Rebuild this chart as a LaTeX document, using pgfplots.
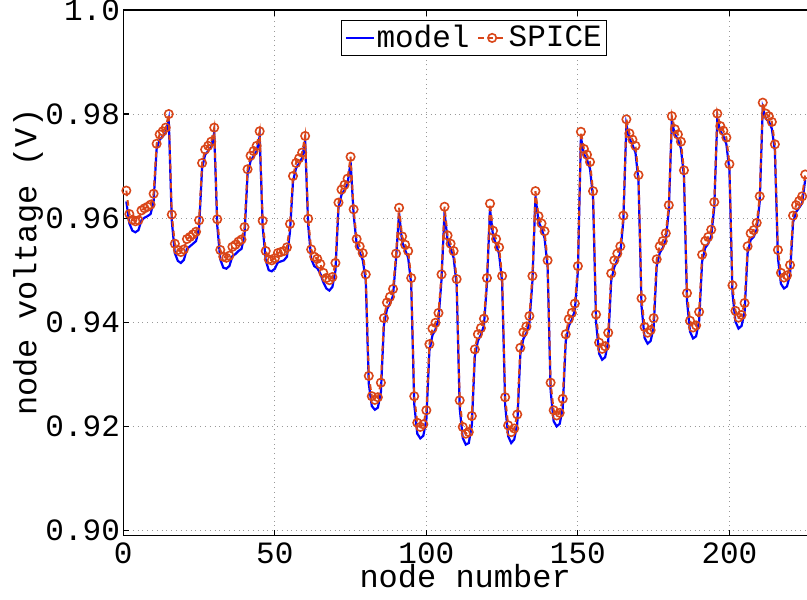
\documentclass[border=0pt]{standalone}
\usepackage{fontspec}
\setmainfont{Liberation Mono}
\usepackage{pgfplots}
\usepackage{pgfplotstable}
\pgfplotsset{compat=1.18}
\definecolor{spicered}{RGB}{217,70,25}
\definecolor{modelblue}{RGB}{0,0,255}
\pgfplotstableread{
n spice model
1 0.9653 0.9632
2 0.9608 0.9590
3 0.9597 0.9576
4 0.9594 0.9573
5 0.9596 0.9577
6 0.9615 0.9596
7 0.9619 0.9601
8 0.9622 0.9604
9 0.9626 0.9608
10 0.9647 0.9632
11 0.9743 0.9733
12 0.9761 0.9751
13 0.9767 0.9757
14 0.9774 0.9764
15 0.9800 0.9790
16 0.9607 0.9595
17 0.9551 0.9533
18 0.9539 0.9518
19 0.9535 0.9514
20 0.9540 0.9520
21 0.9560 0.9541
22 0.9564 0.9546
23 0.9569 0.9551
24 0.9574 0.9556
25 0.9596 0.9581
26 0.9706 0.9696
27 0.9732 0.9722
28 0.9739 0.9729
29 0.9747 0.9737
30 0.9774 0.9764
31 0.9598 0.9586
32 0.9539 0.9521
33 0.9526 0.9505
34 0.9524 0.9503
35 0.9528 0.9508
36 0.9545 0.9527
37 0.9549 0.9531
38 0.9555 0.9537
39 0.9559 0.9541
40 0.9583 0.9568
41 0.9694 0.9684
42 0.9720 0.9710
43 0.9729 0.9719
44 0.9739 0.9729
45 0.9767 0.9757
46 0.9595 0.9583
47 0.9537 0.9519
48 0.9521 0.9500
49 0.9519 0.9498
50 0.9523 0.9503
51 0.9533 0.9515
52 0.9535 0.9517
53 0.9537 0.9519
54 0.9544 0.9526
55 0.9589 0.9574
56 0.9681 0.9671
57 0.9706 0.9696
58 0.9715 0.9705
59 0.9726 0.9716
60 0.9758 0.9748
61 0.9599 0.9587
62 0.9540 0.9522
63 0.9526 0.9508
64 0.9522 0.9504
65 0.9512 0.9494
66 0.9495 0.9477
67 0.9485 0.9465
68 0.9481 0.9461
69 0.9487 0.9468
70 0.9514 0.9499
71 0.9630 0.9620
72 0.9655 0.9645
73 0.9664 0.9654
74 0.9676 0.9666
75 0.9718 0.9708
76 0.9617 0.9607
77 0.9560 0.9550
78 0.9546 0.9534
79 0.9533 0.9520
80 0.9492 0.9480
81 0.9297 0.9282
82 0.9258 0.9239
83 0.9251 0.9232
84 0.9256 0.9236
85 0.9284 0.9266
86 0.9408 0.9395
87 0.9438 0.9425
88 0.9449 0.9436
89 0.9464 0.9451
90 0.9532 0.9522
91 0.9620 0.9610
92 0.9565 0.9555
93 0.9549 0.9539
94 0.9537 0.9524
95 0.9485 0.9473
96 0.9258 0.9243
97 0.9207 0.9186
98 0.9199 0.9177
99 0.9204 0.9182
100 0.9231 0.9213
101 0.9358 0.9345
102 0.9388 0.9375
103 0.9399 0.9386
104 0.9418 0.9405
105 0.9492 0.9482
106 0.9622 0.9612
107 0.9567 0.9557
108 0.9551 0.9541
109 0.9537 0.9524
110 0.9483 0.9471
111 0.9250 0.9235
112 0.9199 0.9178
113 0.9186 0.9165
114 0.9189 0.9168
115 0.9220 0.9202
116 0.9348 0.9335
117 0.9377 0.9364
118 0.9389 0.9376
119 0.9407 0.9394
120 0.9485 0.9475
121 0.9628 0.9618
122 0.9576 0.9566
123 0.9560 0.9550
124 0.9544 0.9531
125 0.9489 0.9477
126 0.9256 0.9241
127 0.9202 0.9181
128 0.9189 0.9168
129 0.9196 0.9175
130 0.9223 0.9205
131 0.9351 0.9338
132 0.9381 0.9368
133 0.9392 0.9379
134 0.9412 0.9399
135 0.9489 0.9479
136 0.9652 0.9642
137 0.9604 0.9594
138 0.9590 0.9580
139 0.9575 0.9562
140 0.9519 0.9507
141 0.9284 0.9269
142 0.9231 0.9210
143 0.9221 0.9200
144 0.9226 0.9205
145 0.9253 0.9235
146 0.9377 0.9364
147 0.9406 0.9393
148 0.9418 0.9405
149 0.9436 0.9423
150 0.9508 0.9498
151 0.9766 0.9756
152 0.9733 0.9723
153 0.9722 0.9712
154 0.9708 0.9695
155 0.9652 0.9640
156 0.9415 0.9400
157 0.9361 0.9340
158 0.9349 0.9328
159 0.9354 0.9333
160 0.9380 0.9362
161 0.9494 0.9481
162 0.9519 0.9506
163 0.9532 0.9519
164 0.9546 0.9533
165 0.9605 0.9595
166 0.9790 0.9780
167 0.9763 0.9753
168 0.9751 0.9741
169 0.9739 0.9726
170 0.9683 0.9671
171 0.9446 0.9431
172 0.9391 0.9370
173 0.9380 0.9359
174 0.9385 0.9364
175 0.9408 0.9390
176 0.9521 0.9508
177 0.9546 0.9533
178 0.9556 0.9543
179 0.9571 0.9558
180 0.9625 0.9615
181 0.9796 0.9786
182 0.9771 0.9761
183 0.9761 0.9751
184 0.9747 0.9734
185 0.9692 0.9680
186 0.9456 0.9441
187 0.9403 0.9382
188 0.9390 0.9369
189 0.9394 0.9373
190 0.9420 0.9402
191 0.9530 0.9517
192 0.9556 0.9543
193 0.9564 0.9551
194 0.9578 0.9565
195 0.9631 0.9621
196 0.9801 0.9791
197 0.9777 0.9767
198 0.9768 0.9758
199 0.9755 0.9742
200 0.9704 0.9692
201 0.9471 0.9456
202 0.9422 0.9401
203 0.9409 0.9388
204 0.9414 0.9393
205 0.9437 0.9419
206 0.9546 0.9533
207 0.9571 0.9558
208 0.9577 0.9564
209 0.9591 0.9578
210 0.9642 0.9632
211 0.9822 0.9812
212 0.9801 0.9791
213 0.9796 0.9786
214 0.9785 0.9772
215 0.9742 0.9730
216 0.9539 0.9524
217 0.9495 0.9474
218 0.9486 0.9465
219 0.9490 0.9469
220 0.9510 0.9492
221 0.9605 0.9592
222 0.9625 0.9612
223 0.9633 0.9620
224 0.9642 0.9629
225 0.9684 0.9674
}\datatable
\begin{document}
\begin{tikzpicture}
\begin{axis}[
  scale only axis,
  width=341.85pt, height=262.85pt,
  xmin=0, xmax=225.6,
  ymin=0.899, ymax=1.0,
  axis x line=box, axis y line=left,
  y axis line style={-},
  axis line style={line width=0.75pt, black},
  tick align=inside,
  major tick length=2.8pt,
  tick style={line width=0.6pt, black},
  xtick={0,50,100,150,200},
  ytick={0.9,0.92,0.94,0.96,0.98,1.0},
  yticklabels={0.90,0.92,0.94,0.96,0.98,1.0},
  ytick pos=left,
  grid=major,
  grid style={dotted, gray!80, line width=0.5pt},
  /pgf/number format/assume math mode=true,
  tick label style={font=\fontsize{15.5}{18}\selectfont},
  yticklabel style={inner sep=1.5pt},
  xlabel={node number},
  ylabel={node voltage (V)},
  label style={font=\fontsize{16}{19}\selectfont},
  xlabel style={at={(axis description cs:0.5,0)}, anchor=base, yshift=-25.9pt},
  ylabel style={at={(axis description cs:-0.1273,0.52)}, anchor=base},
  legend columns=2,
  legend style={at={(axis description cs:0.513,0.981)}, anchor=north,
    draw=black, line width=0.6pt, fill=white, inner sep=1.5pt,
    font=\fontsize{15.5}{18}\selectfont,
    /tikz/every even column/.append style={column sep=3pt},
    nodes={inner sep=0.8pt}},
  legend image code/.code={\draw[mark repeat=2,mark phase=2,#1] plot coordinates {(0pt,0pt) (7pt,0pt) (14pt,0pt)};},
]
\addplot[modelblue, line width=1.1pt, no markers] table[x=n, y=model] {\datatable};
\addlegendentry{model}
\addplot[spicered, line width=1pt, dash pattern=on 2.8pt off 2pt, mark=o, mark size=2.1pt, mark options={solid, line width=0.8pt}] table[x=n, y=spice] {\datatable};
\addlegendentry{SPICE}
\end{axis}
\pgfresetboundingbox
\useasboundingbox ([xshift=-61.65pt,yshift=-31.65pt]current axis.south west) rectangle ([yshift=5pt]current axis.north east);
\end{tikzpicture}
\end{document}
